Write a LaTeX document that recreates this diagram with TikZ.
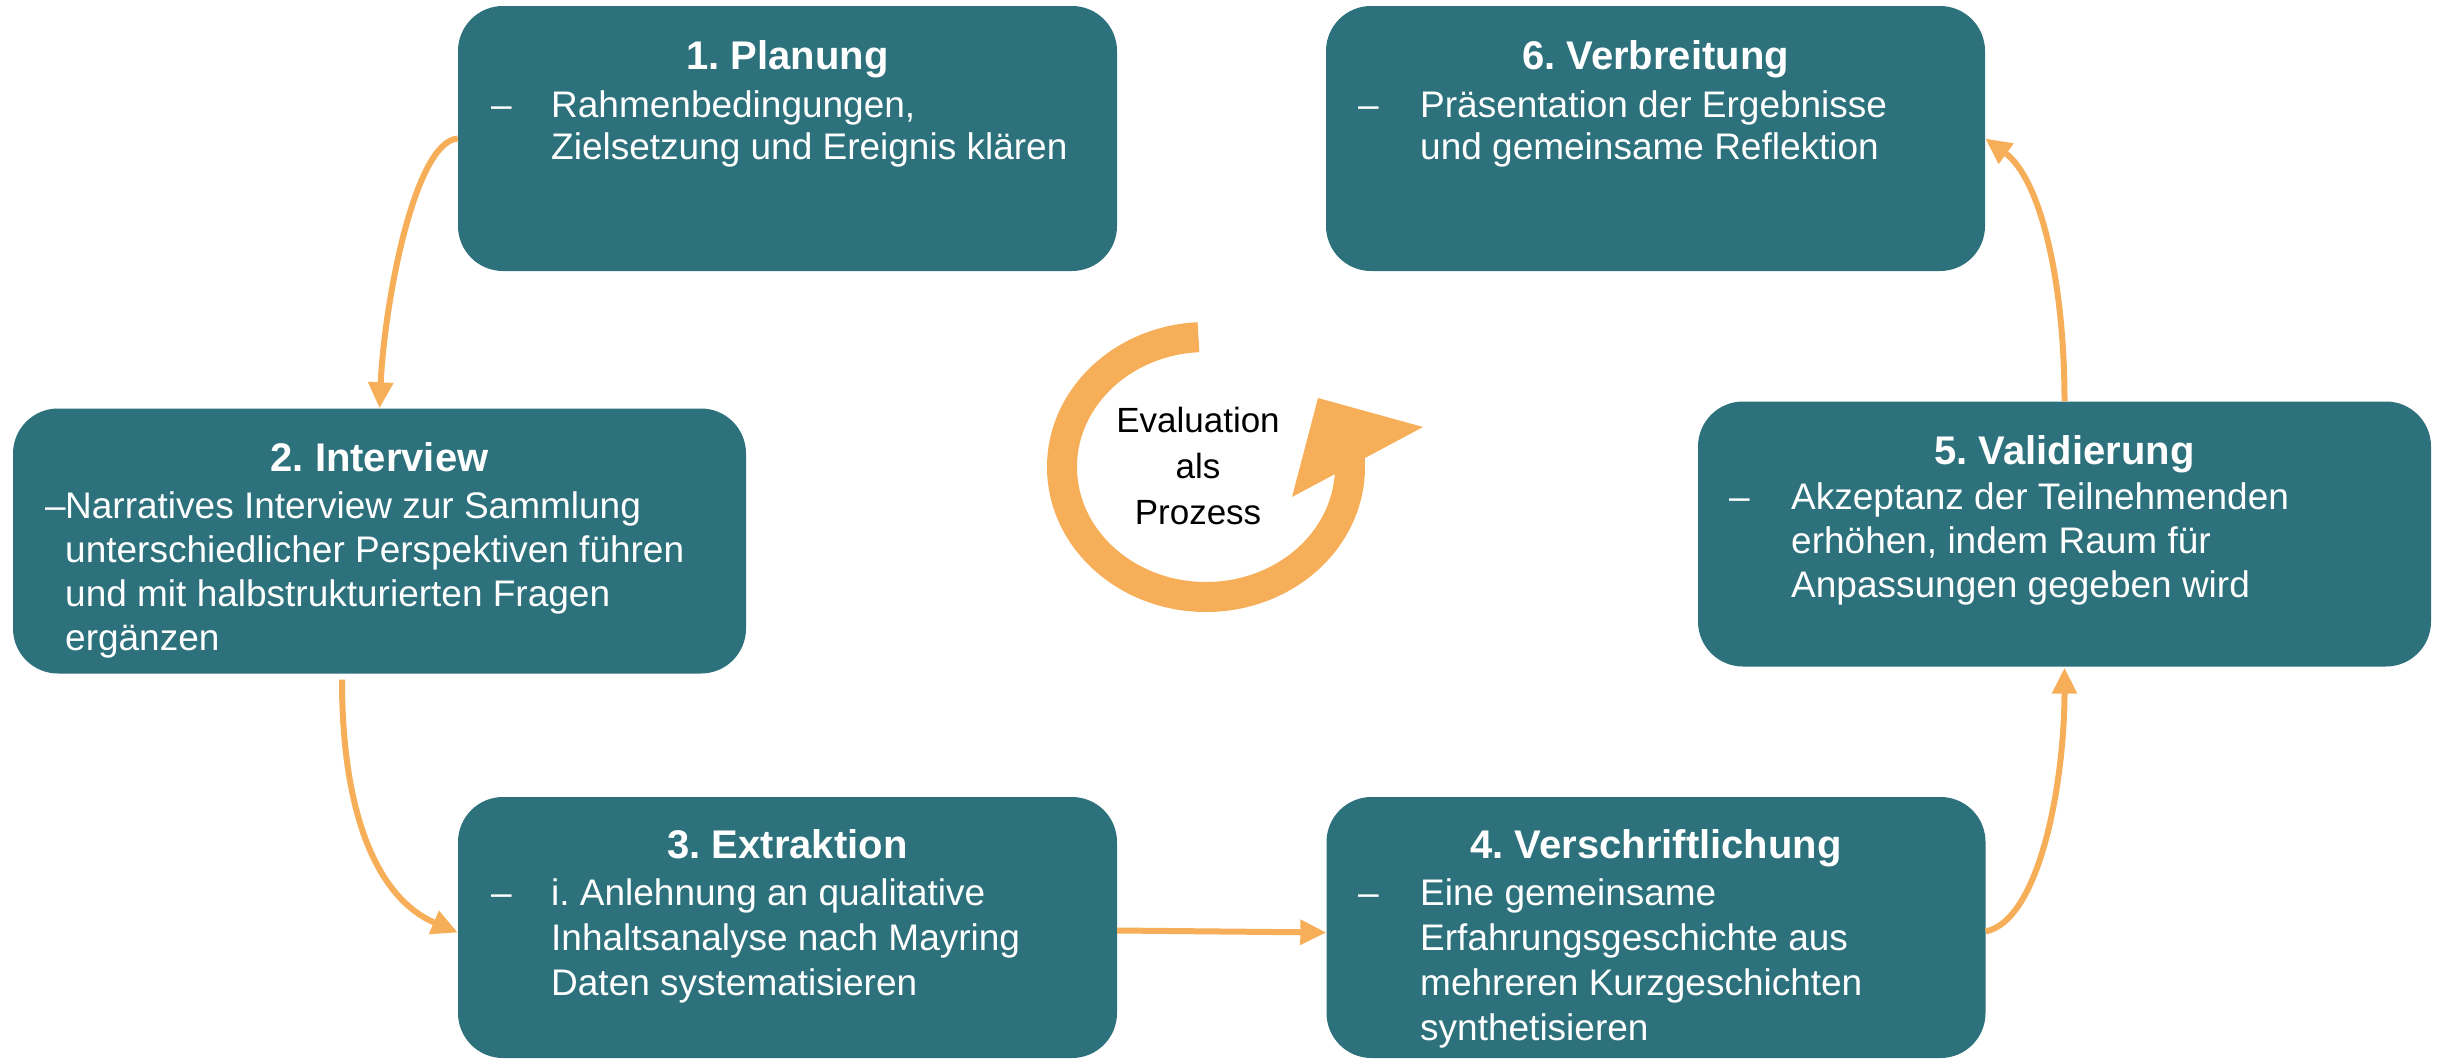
\documentclass[tikz,border=0pt]{standalone}
\usepackage{fontspec}
\setmainfont{Liberation Sans}
\usetikzlibrary{arrows.meta}
\definecolor{teal1}{RGB}{44,113,123}
\definecolor{orange1}{RGB}{247,174,89}
\frenchspacing
\begin{document}
\frenchspacing
\begin{tikzpicture}[x=1pt,y=1pt,
  stepbox/.style={fill=teal1, draw=none, rounded corners=45pt, minimum width=659pt, minimum height=265pt, inner sep=0pt},
  steptitle/.style={text=white, font=\fontsize{40}{48}\selectfont\bfseries\frenchspacing, anchor=base, inner sep=0pt},
  stepbody/.style={text=white, font=\fontsize{37}{44}\selectfont\frenchspacing, anchor=base west, inner sep=0pt},
  conn/.style={draw=orange1, line width=6pt, -{Triangle[length=26pt,width=24pt]}},
]
\useasboundingbox (0,0) rectangle (2443,-1060);

% boxes
\node[stepbox] (p1) at (787.5,-138.5) {};
\node[stepbox, minimum width=733pt] (p2) at (379.5,-541) {};
\node[stepbox, minimum height=261pt] (p3) at (787.5,-927.5) {};
\node[stepbox, minimum height=261pt] (p4) at (1656,-927.5) {};
\node[stepbox, minimum width=733pt] (p5) at (2064.5,-534) {};
\node[stepbox] (p6) at (1655.5,-138.5) {};

% titles
\node[steptitle] (h1) at (787.5,-69) {1. Planung};
\node[steptitle] (h2) at (379.5,-471) {2. Interview};
\node[steptitle] (h3) at (787.5,-858) {3. Extraktion};
\node[steptitle] (h4) at (1656,-858) {4. Verschriftlichung};
\node[steptitle] (h5) at (2064.5,-464) {5. Validierung};
\node[steptitle] (h6) at (1655.5,-69) {6. Verbreitung};

% bodies
\node[stepbody] (d1) at (491,-117) {–};
\node[stepbody, font=\fontsize{37}{42}\selectfont\frenchspacing] (b1) at (551,-117) {\begin{tabular}[t]{@{}l@{}}Rahmenbedingungen,\\Zielsetzung und Ereignis klären\end{tabular}};

\node[stepbody] (d2) at (45,-518) {–};
\node[stepbody] (b2) at (65,-518) {\begin{tabular}[t]{@{}l@{}}Narratives Interview zur Sammlung\\unterschiedlicher Perspektiven führen\\und mit halbstrukturierten Fragen\\ergänzen\end{tabular}};

\node[stepbody] (d3) at (491,-905) {–};
\node[stepbody, font=\fontsize{37}{45}\selectfont\frenchspacing] (b3) at (551,-905) {\begin{tabular}[t]{@{}l@{}}i. Anlehnung an qualitative\\Inhaltsanalyse nach Mayring\\Daten systematisieren\end{tabular}};

\node[stepbody] (d4) at (1358,-905) {–};
\node[stepbody, font=\fontsize{37}{45}\selectfont\frenchspacing] (b4) at (1420,-905) {\begin{tabular}[t]{@{}l@{}}Eine gemeinsame\\Erfahrungsgeschichte aus\\mehreren Kurzgeschichten\\synthetisieren\end{tabular}};

\node[stepbody] (d5) at (1729,-509) {–};
\node[stepbody] (b5) at (1791,-509) {\begin{tabular}[t]{@{}l@{}}Akzeptanz der Teilnehmenden\\erhöhen, indem Raum für\\Anpassungen gegeben wird\end{tabular}};

\node[stepbody] (d6) at (1358,-117) {–};
\node[stepbody, font=\fontsize{37}{42}\selectfont\frenchspacing] (b6) at (1420,-117) {\begin{tabular}[t]{@{}l@{}}Präsentation der Ergebnisse\\und gemeinsame Reflektion\end{tabular}};

% connectors
\draw[conn] (p1.west) .. controls +(-43,-3) and +(5,107) .. (p2.north);
\draw[conn] ([shift={(-37.5,-6)}]p2.south) .. controls +(0,-140) and +(-78,33) .. ([yshift=-5pt]p3.west);
\draw[conn] ([yshift=-3pt]p3.east) -- ([yshift=-5pt]p4.west);
\draw[conn] ([yshift=-4pt]p4.east) .. controls +(55,12) and +(0,-112) .. ([yshift=-1pt]p5.south);
\draw[conn] (p5.north) .. controls +(0,121) and +(55,-40) .. (p6.east);

% central circular arrow
\coordinate (rc) at (1206,-467);
\fill[orange1] (1318,-398) -- (1423,-427) -- (1292,-497) -- cycle;
\draw[orange1, line width=30pt] ([shift={(93:144pt and 130pt)}]rc) arc[start angle=93, end angle=368, x radius=144pt, y radius=130pt];
\node[font=\fontsize{35}{46}\selectfont, anchor=base, inner sep=0pt] (ev) at (1198,-432) {\begin{tabular}[t]{@{}c@{}}Evaluation\\als\\Prozess\end{tabular}};
\end{tikzpicture}
\end{document}
